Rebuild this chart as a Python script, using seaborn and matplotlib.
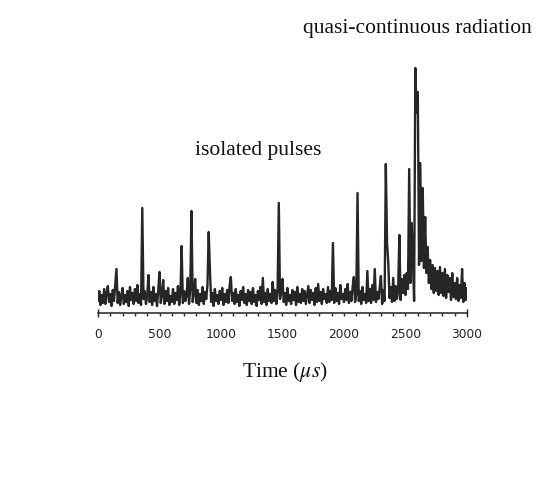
import matplotlib
matplotlib.use("Agg")
import matplotlib.pyplot as plt
import matplotlib.ticker as mticker
import seaborn as sns
import pandas as pd
import numpy as np

# ---- data (arbitrary amplitude units, sampled every 10 us) ----
time_us = list(range(0, 3010, 10))
signal = [
    12, 22, 8, 18, 10, 24, 9, 20, 27, 11,          # 0-90
    19, 7, 23, 12, 28, 44, 10, 21, 8, 17,          # 100-190
    25, 9, 18, 11, 22, 7, 26, 13, 20, 9,           # 200-290
    24, 12, 28, 10, 19, 8, 105, 14, 22, 9,         # 300-390
    17, 38, 11, 21, 8, 26, 12, 19, 7, 23,          # 400-490
    41, 10, 18, 33, 9, 22, 12, 25, 8, 17,          # 500-590
    11, 24, 9, 20, 13, 27, 8, 19, 67, 10,          # 600-690
    22, 12, 18, 35, 9, 24, 102, 11, 20, 34,        # 700-790
    10, 23, 8, 19, 12, 26, 9, 21, 14, 28,          # 800-890
    81, 43, 11, 20, 7, 24, 12, 18, 9, 22,          # 900-990
    13, 25, 8, 19, 11, 23, 10, 27, 36, 12,         # 1000-1090
    20, 9, 24, 11, 18, 7, 22, 13, 26, 10,          # 1100-1190
    19, 8, 23, 12, 21, 9, 25, 11, 18, 7,           # 1200-1290
    22, 13, 26, 9, 35, 11, 20, 8, 24, 12,          # 1300-1390
    19, 10, 31, 12, 23, 9, 21, 110, 14, 22,        # 1400-1490
    34, 11, 20, 8, 25, 12, 18, 9, 23, 13,          # 1500-1590
    21, 8, 26, 11, 19, 10, 24, 12, 22, 9,          # 1600-1690
    18, 27, 10, 23, 13, 20, 8, 25, 11, 29,         # 1700-1790
    12, 21, 9, 24, 14, 19, 10, 26, 11, 22,         # 1800-1890
    13, 70, 10, 25, 12, 20, 9, 28, 14, 19,         # 1900-1990
    11, 24, 13, 29, 10, 21, 12, 26, 36, 11,        # 2000-2090
    18, 120, 12, 22, 9, 26, 13, 19, 10, 42,        # 2100-2190
    12, 24, 10, 28, 13, 44, 11, 21, 14, 25,        # 2200-2290
    37, 9, 23, 12, 149, 70, 50, 15, 26, 11,        # 2300-2390
    35, 12, 27, 14, 22, 78, 13, 34, 20, 38,        # 2400-2490
    18, 40, 24, 144, 30, 90, 55, 12, 245, 200,     # 2500-2590
    221, 48, 150, 52, 125, 45, 96, 40, 66, 30,     # 2600-2690
    53, 24, 48, 20, 45, 22, 42, 18, 46, 20,        # 2700-2790
    40, 17, 44, 15, 38, 21, 35, 13, 40, 16,        # 2800-2890
    30, 14, 35, 12, 28, 15, 44, 11, 30, 13,        # 2900-2990
    25,                                            # 3000
]
major_ticks = [0, 500, 1000, 1500, 2000, 2500, 3000]
tick_labels = ["0", "500", "1000", "1500", "2000", "2500", "3000"]

df = pd.DataFrame({"time": time_us, "signal": signal})

sns.set_style("white")
plt.rcParams["font.family"] = ["DejaVu Sans"]
plt.rcParams["mathtext.fontset"] = "stix"

fig = plt.figure(figsize=(5.6, 4.8), dpi=100)
ax = fig.add_axes([98 / 560, (480 - 313) / 480, 369 / 560, 260 / 480])

sns.lineplot(data=df, x="time", y="signal", ax=ax, color="#262626",
             linewidth=1.7, estimator=None)

ax.set_xlim(0, 3000)
ax.set_ylim(0, 260)
ax.set_xlabel("")
ax.set_ylabel("")
ax.set_yticks([])
for s in ["top", "right", "left"]:
    ax.spines[s].set_visible(False)
ax.spines["bottom"].set_color("#222222")
ax.spines["bottom"].set_linewidth(1.1)

ax.set_xticks(major_ticks)
ax.set_xticklabels(tick_labels)
ax.xaxis.set_minor_locator(mticker.MultipleLocator(100))
ax.tick_params(axis="x", which="both", direction="out", length=2.5,
               width=1.0, color="#222222", bottom=True)
ax.tick_params(axis="x", which="major", labelsize=8.8, labelcolor="#222222",
               pad=8)
ticks = ax.xaxis.get_major_ticks()
for t in (ticks[0], ticks[-1]):
    t.tick1line.set_marker("|")
    t.tick1line.set_markersize(6)

serif = ["Liberation Serif", "DejaVu Serif"]
fig.text(285 / 560, (480 - 377) / 480, r"Time ($\mu s$)", ha="center",
         va="baseline", fontsize=15.5, family=serif, color="#111111")
fig.text(258 / 560, (480 - 155) / 480, "isolated pulses", ha="center",
         va="baseline", fontsize=15.5, family=serif, color="#111111")
fig.text(417.5 / 560, (480 - 33) / 480, "quasi-continuous radiation",
         ha="center", va="baseline", fontsize=15.5, family=serif,
         color="#111111")

fig.savefig("out.png", dpi=100, facecolor="white")
